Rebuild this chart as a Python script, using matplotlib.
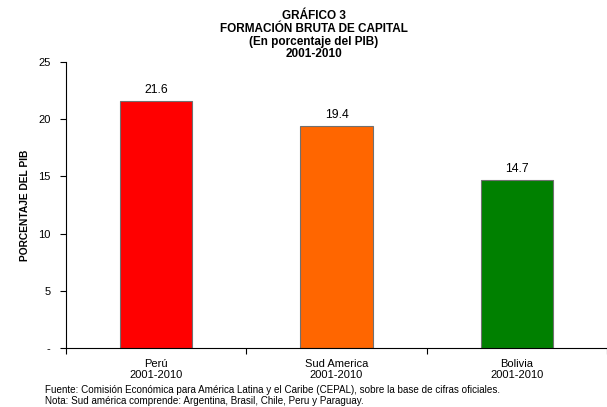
import matplotlib
matplotlib.use("Agg")
import matplotlib.pyplot as plt

plt.rcParams['font.family'] = ['Liberation Sans', 'DejaVu Sans']

categories = ["Perú\n2001-2010", "Sud America\n2001-2010", "Bolivia\n2001-2010"]
values = [21.6, 19.4, 14.7]
bar_colors = ["#FF0000", "#FF6600", "#008000"]
y_ticks = [0, 5, 10, 15, 20, 25]
y_tick_labels = ["-", "5", "10", "15", "20", "25"]

title_lines = ["GRÁFICO 3", "FORMACIÓN BRUTA DE CAPITAL", "(En porcentaje del PIB)", "2001-2010"]
notes = ["Fuente: Comisión Económica para América Latina y el Caribe (CEPAL), sobre la base de cifras oficiales.",
         "Nota: Sud américa comprende: Argentina, Brasil, Chile, Peru y Paraguay."]

W, H = 607, 407
fig = plt.figure(figsize=(W / 100, H / 100), dpi=100)
ax = fig.add_axes([66 / W, 1 - 348 / H, (607 - 66) / W, (348 - 62) / H])

x = range(len(values))
bars = ax.bar(x, values, width=0.4, color=bar_colors, edgecolor="#707070", linewidth=0.8)
for i, v in enumerate(values):
    ax.text(i, v + 0.45, f"{v:.1f}", ha="center", va="bottom", fontsize=8.8)

ax.set_xlim(-0.5, len(values) - 0.5)
ax.set_ylim(0, 25)
ax.set_yticks(y_ticks)
ax.set_yticklabels(y_tick_labels, fontsize=8)
ax.set_xticks([i - 0.5 for i in range(len(values) + 1)])
ax.set_xticklabels([])
ax.set_xticks(list(x), minor=True)
ax.set_xticklabels(categories, minor=True, fontsize=8, linespacing=1.15)
ax.tick_params(axis="x", which="minor", length=0, pad=8)
ax.tick_params(axis="x", which="major", length=4, direction="out")
ax.tick_params(axis="y", length=4, direction="out", pad=7)
for s in ["top", "right"]:
    ax.spines[s].set_visible(False)
ax.set_ylabel("PORCENTAJE DEL PIB", fontsize=7.4, fontweight="bold", labelpad=6)

for k, line in enumerate(title_lines):
    fig.text(314 / W, 1 - (16 + 12.8 * k) / H, line, ha="center", va="center",
             fontsize=8.5, fontweight="bold")

for k, line in enumerate(notes):
    fig.text(45 / W, 1 - (390 + 11 * k) / H, line, ha="left", va="center", fontsize=7.1)

fig.savefig("out.png", dpi=100)
